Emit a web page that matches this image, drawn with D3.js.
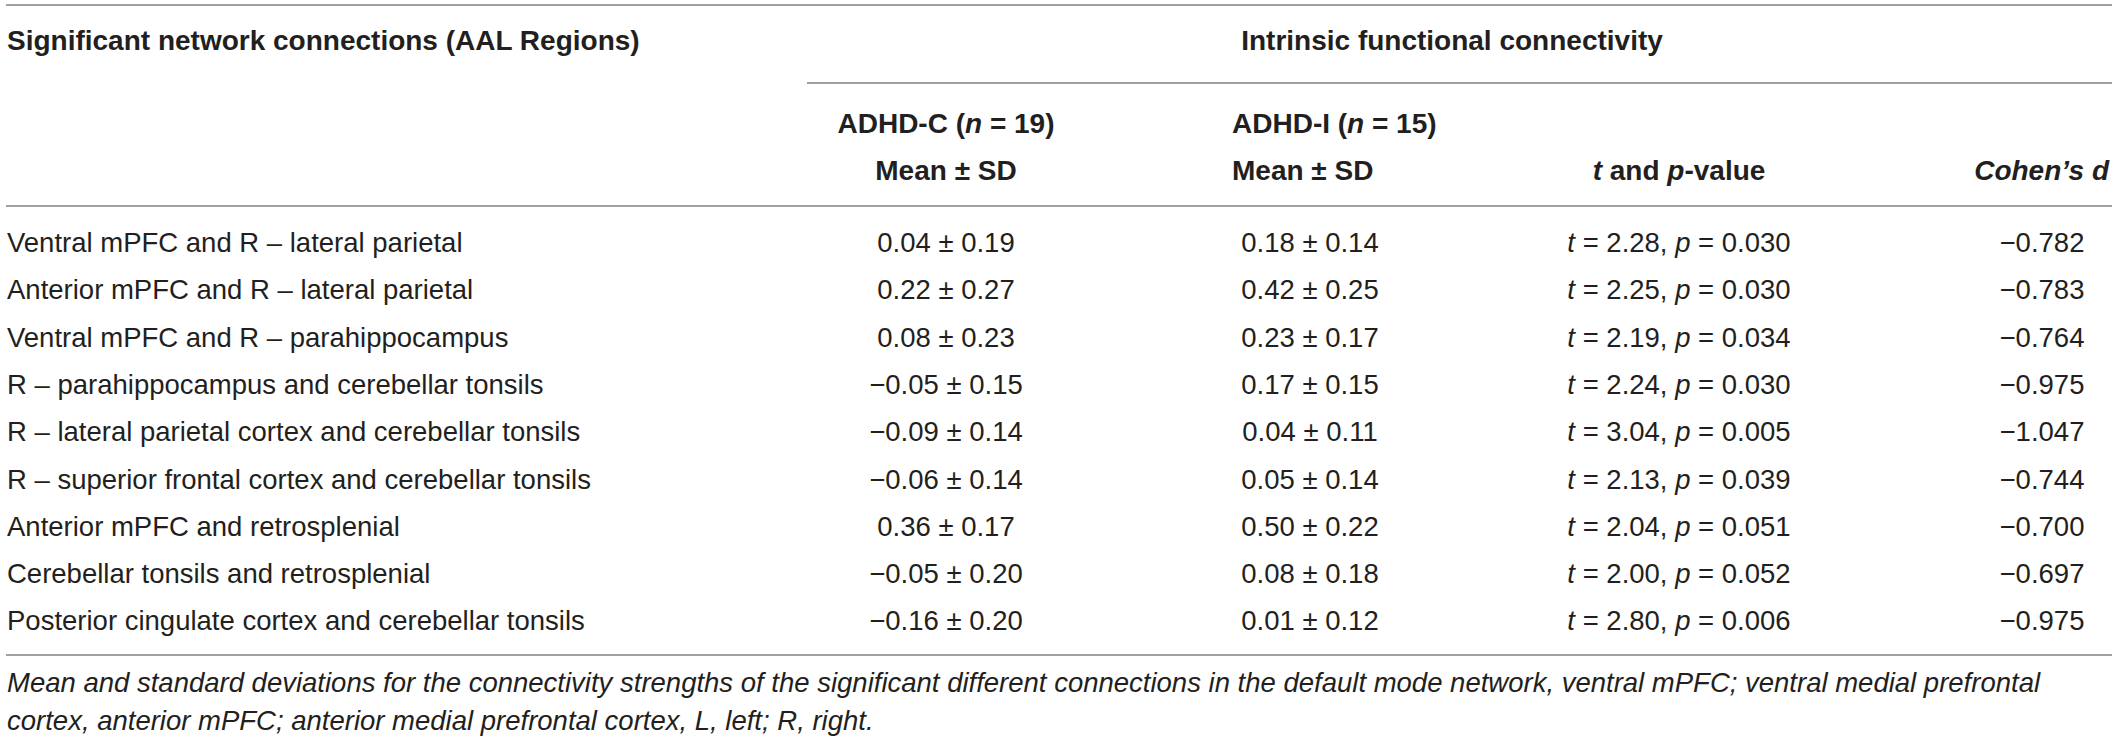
<!DOCTYPE html>
<html>
<head>
<meta charset="utf-8">
<script src="https://cdn.jsdelivr.net/npm/d3@7"></script>
<style>
  body { margin: 0; background: #fff; }
  svg { display: block; }
</style>
</head>
<body>
<svg id="chart"></svg>
<script>
// table data
const connections = [
  "Ventral mPFC and R – lateral parietal",
  "Anterior mPFC and R – lateral parietal",
  "Ventral mPFC and R – parahippocampus",
  "R – parahippocampus and cerebellar tonsils",
  "R – lateral parietal cortex and cerebellar tonsils",
  "R – superior frontal cortex and cerebellar tonsils",
  "Anterior mPFC and retrosplenial",
  "Cerebellar tonsils and retrosplenial",
  "Posterior cingulate cortex and cerebellar tonsils",
]
const adhdCMean = [0.04, 0.22, 0.08, -0.05, -0.09, -0.06, 0.36, -0.05, -0.16]
const adhdCSd = [0.19, 0.27, 0.23, 0.15, 0.14, 0.14, 0.17, 0.20, 0.20]
const adhdIMean = [0.18, 0.42, 0.23, 0.17, 0.04, 0.05, 0.50, 0.08, 0.01]
const adhdISd = [0.14, 0.25, 0.17, 0.15, 0.11, 0.14, 0.22, 0.18, 0.12]
const tValues = [2.28, 2.25, 2.19, 2.24, 3.04, 2.13, 2.04, 2.00, 2.80]
const pValues = [0.030, 0.030, 0.034, 0.030, 0.005, 0.039, 0.051, 0.052, 0.006]
const cohensD = [-0.782, -0.783, -0.764, -0.975, -1.047, -0.744, -0.700, -0.697, -0.975]
const groupSizes = { C: 19, I: 15 }
const footnote = [
  "Mean and standard deviations for the connectivity strengths of the significant different connections in the default mode network, ventral mPFC; ventral medial prefrontal",
  "cortex, anterior mPFC; anterior medial prefrontal cortex, L, left; R, right.",
]

const width = 2118
const height = 741
const ink = "#231f20"
const ruleColor = "#828282"
const fontFamily = "'Liberation Sans', Arial, Helvetica, sans-serif"

const svg = d3.select("#chart").attr("width", width).attr("height", height)

const f2 = d3.format(".2f")
const f3 = d3.format(".3f")

// row baselines
const y = d3.scalePoint()
  .domain(d3.range(connections.length))
  .range([252, 630.4])

// column anchors
const col = {
  name: 7,
  adhdC: 946,
  adhdIHead: 1232,
  adhdI: 1310,
  stats: 1679,
  cohenHead: 2109,
  cohen: 2042,
}

// writes a line made of [text, italic] parts
const drawText = (parts, x, yPos, opts = {}) => {
  const t = svg.append("text")
    .attr("x", x)
    .attr("y", yPos)
    .attr("text-anchor", opts.anchor || "start")
    .attr("fill", ink)
    .style("font-family", fontFamily)
    .style("font-size", (opts.size || 27.5) + "px")
    .style("font-weight", opts.bold ? "bold" : "normal")
  parts.forEach(([txt, italic]) => {
    t.append("tspan")
      .text(txt)
      .style("font-style", italic ? "italic" : "normal")
  })
  return t
}

const drawRule = (x1, x2, yPos) => {
  svg.append("line")
    .attr("x1", x1).attr("x2", x2)
    .attr("y1", yPos).attr("y2", yPos)
    .attr("stroke", ruleColor)
    .attr("stroke-width", 1.5)
}

// rules
drawRule(6, 2112, 5)
drawRule(807, 2112, 83)
drawRule(6, 2112, 206)
drawRule(6, 2112, 655)

// header
const hb = { bold: true, size: 28 }
drawText([["Significant network connections (AAL Regions)", false]], col.name, 50, hb)
drawText([["Intrinsic functional connectivity", false]], 1452, 50, { ...hb, anchor: "middle" })
drawText([["ADHD-C (", false], ["n", true], [` = ${groupSizes.C})`, false]], col.adhdC, 133, { ...hb, anchor: "middle" })
drawText([["Mean ± SD", false]], col.adhdC, 180, { ...hb, anchor: "middle" })
drawText([["ADHD-I (", false], ["n", true], [` = ${groupSizes.I})`, false]], col.adhdIHead, 133, hb)
drawText([["Mean ± SD", false]], col.adhdIHead, 180, hb)
drawText([["t", true], [" and ", false], ["p", true], ["-value", false]], col.stats, 180, { ...hb, anchor: "middle" })
drawText([["Cohen’s d", true]], col.cohenHead, 180, { ...hb, anchor: "end" })

// body rows
connections.forEach((name, i) => {
  const yy = y(i)
  drawText([[name, false]], col.name, yy)
  drawText([[`${f2(adhdCMean[i])} ± ${f2(adhdCSd[i])}`, false]], col.adhdC, yy, { anchor: "middle" })
  drawText([[`${f2(adhdIMean[i])} ± ${f2(adhdISd[i])}`, false]], col.adhdI, yy, { anchor: "middle" })
  drawText([["t", true], [` = ${f2(tValues[i])}, `, false], ["p", true], [` = ${f3(pValues[i])}`, false]],
    col.stats, yy, { anchor: "middle" })
  drawText([[f3(cohensD[i]), false]], col.cohen, yy, { anchor: "middle" })
})

// footnote
footnote.forEach((line, i) => {
  drawText([[line, true]], col.name, 692 + i * 38)
})
</script>
</body>
</html>
